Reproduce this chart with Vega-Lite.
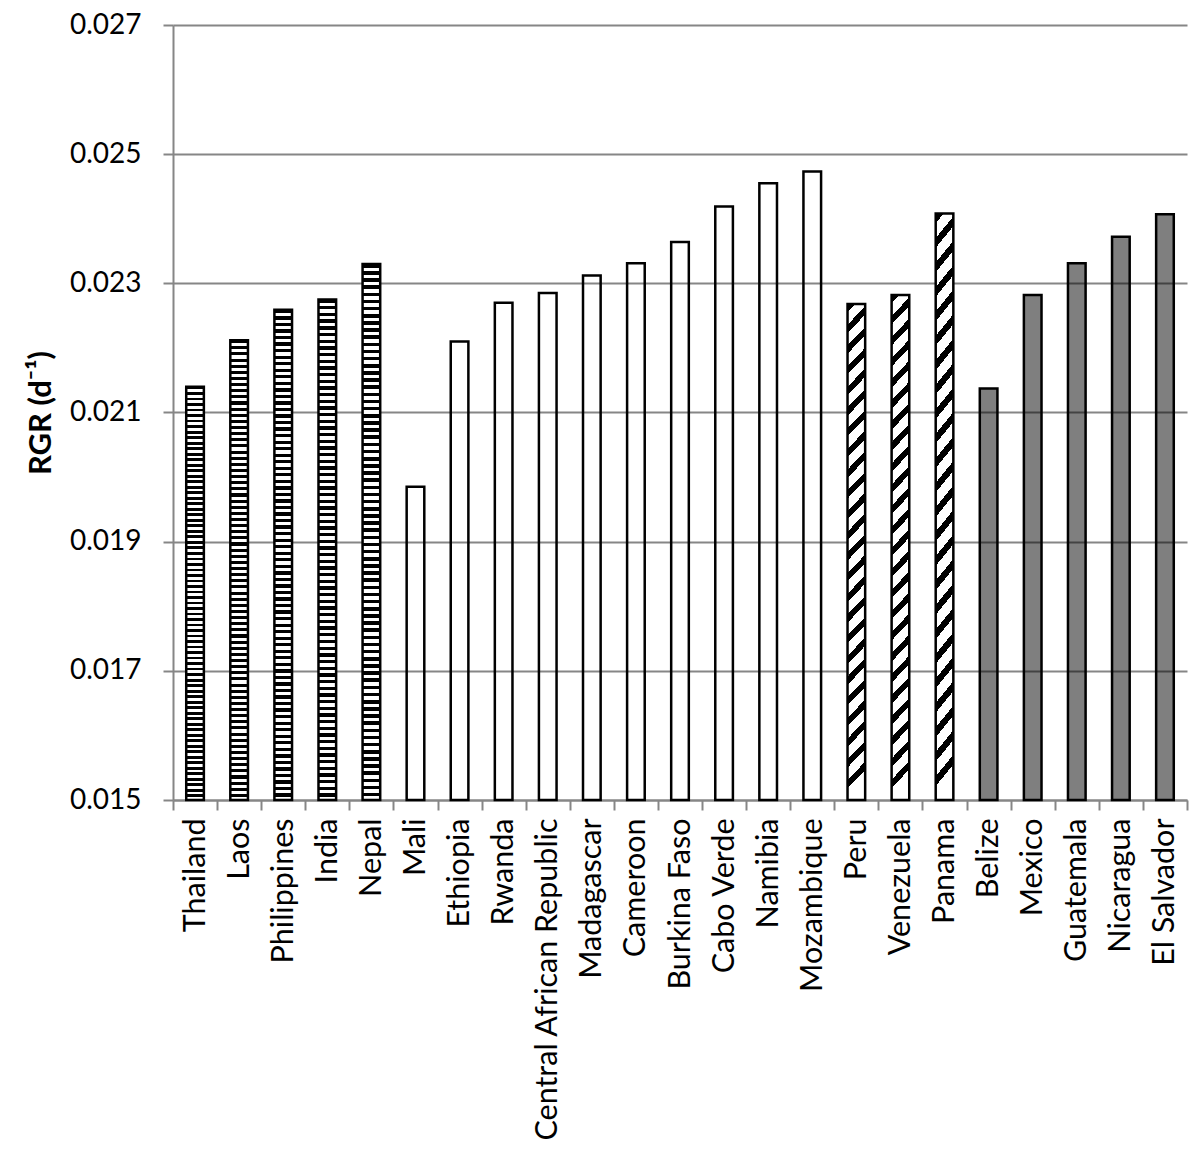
{
  "$schema": "https://vega.github.io/schema/vega-lite/v6.json",
  "autosize": {"type": "none"},
  "padding": {"left": 173, "top": 25, "right": 13, "bottom": 357},
  "width": 1014,
  "height": 775,
  "background": "white",
  "config": {"view": {"stroke": null}, "font": "Lato"},
  "data": {"values": [
    {"country": "Thailand", "rgr": 0.0214, "group": "Asia"},
    {"country": "Laos", "rgr": 0.02212, "group": "Asia"},
    {"country": "Philippines", "rgr": 0.02259, "group": "Asia"},
    {"country": "India", "rgr": 0.02275, "group": "Asia"},
    {"country": "Nepal", "rgr": 0.0233, "group": "Asia"},
    {"country": "Mali", "rgr": 0.01985, "group": "Africa"},
    {"country": "Ethiopia", "rgr": 0.0221, "group": "Africa"},
    {"country": "Rwanda", "rgr": 0.0227, "group": "Africa"},
    {"country": "Central African Republic", "rgr": 0.02285, "group": "Africa"},
    {"country": "Madagascar", "rgr": 0.02312, "group": "Africa"},
    {"country": "Cameroon", "rgr": 0.02331, "group": "Africa"},
    {"country": "Burkina Faso", "rgr": 0.02364, "group": "Africa"},
    {"country": "Cabo Verde", "rgr": 0.02419, "group": "Africa"},
    {"country": "Namibia", "rgr": 0.02455, "group": "Africa"},
    {"country": "Mozambique", "rgr": 0.02473, "group": "Africa"},
    {"country": "Peru", "rgr": 0.02268, "group": "South America"},
    {"country": "Venezuela", "rgr": 0.02282, "group": "South America"},
    {"country": "Panama", "rgr": 0.02408, "group": "South America"},
    {"country": "Belize", "rgr": 0.02137, "group": "Central America"},
    {"country": "Mexico", "rgr": 0.02282, "group": "Central America"},
    {"country": "Guatemala", "rgr": 0.02331, "group": "Central America"},
    {"country": "Nicaragua", "rgr": 0.02372, "group": "Central America"},
    {"country": "El Salvador", "rgr": 0.02407, "group": "Central America"}
  ]},
  "encoding": {
    "x": {
      "field": "country", "type": "nominal", "sort": null,
      "scale": {"paddingInner": 0, "paddingOuter": 0},
      "axis": {
        "title": null, "labelAngle": -90, "labelFontSize": 30.5, "labelFont": "Lato",
        "labelColor": "black", "labelLimit": 0, "labelPadding": 8,
        "tickBand": "extent", "tickSize": 10, "tickColor": "#868686", "tickWidth": 2,
        "domainColor": "#868686", "domainWidth": 2, "grid": false
      }
    },
    "y": {
      "field": "rgr", "type": "quantitative",
      "scale": {"domain": [0.015, 0.027], "nice": false, "zero": false},
      "axis": {
        "values": [0.015, 0.017, 0.019, 0.021, 0.023, 0.025, 0.027],
        "format": ".3f", "grid": true, "gridColor": "#868686", "gridWidth": 2,
        "tickSize": 10, "tickColor": "#868686", "tickWidth": 2,
        "domainColor": "#868686", "domainWidth": 2,
        "labelFontSize": 28, "labelFont": "Lato", "labelColor": "black", "labelPadding": 22,
        "title": "RGR (d⁻¹)", "titleFont": "Lato", "titleFontSize": 31, "titleFontWeight": "bold",
        "titleColor": "black", "titlePadding": 12
      }
    },
    "y2": {"datum": 0.015}
  },
  "layer": [
    {
      "transform": [{"filter": "datum.group == 'Asia'"}],
      "mark": {"type": "bar", "width": {"band": 0.4}, "stroke": "black", "strokeWidth": 2.5,
        "fill": {"gradient": "linear", "x1": 0, "y1": 0, "x2": 0, "y2": 1, "stops": [
{"offset":0,"color":"#000"},{"offset":0.00667,"color":"#000"},{"offset":0.00667,"color":"#fff"},{"offset":0.01333,"color":"#fff"},{"offset":0.01333,"color":"#000"},{"offset":0.02,"color":"#000"},{"offset":0.02,"color":"#fff"},{"offset":0.02667,"color":"#fff"},{"offset":0.02667,"color":"#000"},{"offset":0.03333,"color":"#000"},{"offset":0.03333,"color":"#fff"},{"offset":0.04,"color":"#fff"},
{"offset":0.04,"color":"#000"},{"offset":0.04667,"color":"#000"},{"offset":0.04667,"color":"#fff"},{"offset":0.05333,"color":"#fff"},{"offset":0.05333,"color":"#000"},{"offset":0.06,"color":"#000"},{"offset":0.06,"color":"#fff"},{"offset":0.06667,"color":"#fff"},{"offset":0.06667,"color":"#000"},{"offset":0.07333,"color":"#000"},{"offset":0.07333,"color":"#fff"},{"offset":0.08,"color":"#fff"},
{"offset":0.08,"color":"#000"},{"offset":0.08667,"color":"#000"},{"offset":0.08667,"color":"#fff"},{"offset":0.09333,"color":"#fff"},{"offset":0.09333,"color":"#000"},{"offset":0.1,"color":"#000"},{"offset":0.1,"color":"#fff"},{"offset":0.10667,"color":"#fff"},{"offset":0.10667,"color":"#000"},{"offset":0.11333,"color":"#000"},{"offset":0.11333,"color":"#fff"},{"offset":0.12,"color":"#fff"},
{"offset":0.12,"color":"#000"},{"offset":0.12667,"color":"#000"},{"offset":0.12667,"color":"#fff"},{"offset":0.13333,"color":"#fff"},{"offset":0.13333,"color":"#000"},{"offset":0.14,"color":"#000"},{"offset":0.14,"color":"#fff"},{"offset":0.14667,"color":"#fff"},{"offset":0.14667,"color":"#000"},{"offset":0.15333,"color":"#000"},{"offset":0.15333,"color":"#fff"},{"offset":0.16,"color":"#fff"},
{"offset":0.16,"color":"#000"},{"offset":0.16667,"color":"#000"},{"offset":0.16667,"color":"#fff"},{"offset":0.17333,"color":"#fff"},{"offset":0.17333,"color":"#000"},{"offset":0.18,"color":"#000"},{"offset":0.18,"color":"#fff"},{"offset":0.18667,"color":"#fff"},{"offset":0.18667,"color":"#000"},{"offset":0.19333,"color":"#000"},{"offset":0.19333,"color":"#fff"},{"offset":0.2,"color":"#fff"},
{"offset":0.2,"color":"#000"},{"offset":0.20667,"color":"#000"},{"offset":0.20667,"color":"#fff"},{"offset":0.21333,"color":"#fff"},{"offset":0.21333,"color":"#000"},{"offset":0.22,"color":"#000"},{"offset":0.22,"color":"#fff"},{"offset":0.22667,"color":"#fff"},{"offset":0.22667,"color":"#000"},{"offset":0.23333,"color":"#000"},{"offset":0.23333,"color":"#fff"},{"offset":0.24,"color":"#fff"},
{"offset":0.24,"color":"#000"},{"offset":0.24667,"color":"#000"},{"offset":0.24667,"color":"#fff"},{"offset":0.25333,"color":"#fff"},{"offset":0.25333,"color":"#000"},{"offset":0.26,"color":"#000"},{"offset":0.26,"color":"#fff"},{"offset":0.26667,"color":"#fff"},{"offset":0.26667,"color":"#000"},{"offset":0.27333,"color":"#000"},{"offset":0.27333,"color":"#fff"},{"offset":0.28,"color":"#fff"},
{"offset":0.28,"color":"#000"},{"offset":0.28667,"color":"#000"},{"offset":0.28667,"color":"#fff"},{"offset":0.29333,"color":"#fff"},{"offset":0.29333,"color":"#000"},{"offset":0.3,"color":"#000"},{"offset":0.3,"color":"#fff"},{"offset":0.30667,"color":"#fff"},{"offset":0.30667,"color":"#000"},{"offset":0.31333,"color":"#000"},{"offset":0.31333,"color":"#fff"},{"offset":0.32,"color":"#fff"},
{"offset":0.32,"color":"#000"},{"offset":0.32667,"color":"#000"},{"offset":0.32667,"color":"#fff"},{"offset":0.33333,"color":"#fff"},{"offset":0.33333,"color":"#000"},{"offset":0.34,"color":"#000"},{"offset":0.34,"color":"#fff"},{"offset":0.34667,"color":"#fff"},{"offset":0.34667,"color":"#000"},{"offset":0.35333,"color":"#000"},{"offset":0.35333,"color":"#fff"},{"offset":0.36,"color":"#fff"},
{"offset":0.36,"color":"#000"},{"offset":0.36667,"color":"#000"},{"offset":0.36667,"color":"#fff"},{"offset":0.37333,"color":"#fff"},{"offset":0.37333,"color":"#000"},{"offset":0.38,"color":"#000"},{"offset":0.38,"color":"#fff"},{"offset":0.38667,"color":"#fff"},{"offset":0.38667,"color":"#000"},{"offset":0.39333,"color":"#000"},{"offset":0.39333,"color":"#fff"},{"offset":0.4,"color":"#fff"},
{"offset":0.4,"color":"#000"},{"offset":0.40667,"color":"#000"},{"offset":0.40667,"color":"#fff"},{"offset":0.41333,"color":"#fff"},{"offset":0.41333,"color":"#000"},{"offset":0.42,"color":"#000"},{"offset":0.42,"color":"#fff"},{"offset":0.42667,"color":"#fff"},{"offset":0.42667,"color":"#000"},{"offset":0.43333,"color":"#000"},{"offset":0.43333,"color":"#fff"},{"offset":0.44,"color":"#fff"},
{"offset":0.44,"color":"#000"},{"offset":0.44667,"color":"#000"},{"offset":0.44667,"color":"#fff"},{"offset":0.45333,"color":"#fff"},{"offset":0.45333,"color":"#000"},{"offset":0.46,"color":"#000"},{"offset":0.46,"color":"#fff"},{"offset":0.46667,"color":"#fff"},{"offset":0.46667,"color":"#000"},{"offset":0.47333,"color":"#000"},{"offset":0.47333,"color":"#fff"},{"offset":0.48,"color":"#fff"},
{"offset":0.48,"color":"#000"},{"offset":0.48667,"color":"#000"},{"offset":0.48667,"color":"#fff"},{"offset":0.49333,"color":"#fff"},{"offset":0.49333,"color":"#000"},{"offset":0.5,"color":"#000"},{"offset":0.5,"color":"#fff"},{"offset":0.50667,"color":"#fff"},{"offset":0.50667,"color":"#000"},{"offset":0.51333,"color":"#000"},{"offset":0.51333,"color":"#fff"},{"offset":0.52,"color":"#fff"},
{"offset":0.52,"color":"#000"},{"offset":0.52667,"color":"#000"},{"offset":0.52667,"color":"#fff"},{"offset":0.53333,"color":"#fff"},{"offset":0.53333,"color":"#000"},{"offset":0.54,"color":"#000"},{"offset":0.54,"color":"#fff"},{"offset":0.54667,"color":"#fff"},{"offset":0.54667,"color":"#000"},{"offset":0.55333,"color":"#000"},{"offset":0.55333,"color":"#fff"},{"offset":0.56,"color":"#fff"},
{"offset":0.56,"color":"#000"},{"offset":0.56667,"color":"#000"},{"offset":0.56667,"color":"#fff"},{"offset":0.57333,"color":"#fff"},{"offset":0.57333,"color":"#000"},{"offset":0.58,"color":"#000"},{"offset":0.58,"color":"#fff"},{"offset":0.58667,"color":"#fff"},{"offset":0.58667,"color":"#000"},{"offset":0.59333,"color":"#000"},{"offset":0.59333,"color":"#fff"},{"offset":0.6,"color":"#fff"},
{"offset":0.6,"color":"#000"},{"offset":0.60667,"color":"#000"},{"offset":0.60667,"color":"#fff"},{"offset":0.61333,"color":"#fff"},{"offset":0.61333,"color":"#000"},{"offset":0.62,"color":"#000"},{"offset":0.62,"color":"#fff"},{"offset":0.62667,"color":"#fff"},{"offset":0.62667,"color":"#000"},{"offset":0.63333,"color":"#000"},{"offset":0.63333,"color":"#fff"},{"offset":0.64,"color":"#fff"},
{"offset":0.64,"color":"#000"},{"offset":0.64667,"color":"#000"},{"offset":0.64667,"color":"#fff"},{"offset":0.65333,"color":"#fff"},{"offset":0.65333,"color":"#000"},{"offset":0.66,"color":"#000"},{"offset":0.66,"color":"#fff"},{"offset":0.66667,"color":"#fff"},{"offset":0.66667,"color":"#000"},{"offset":0.67333,"color":"#000"},{"offset":0.67333,"color":"#fff"},{"offset":0.68,"color":"#fff"},
{"offset":0.68,"color":"#000"},{"offset":0.68667,"color":"#000"},{"offset":0.68667,"color":"#fff"},{"offset":0.69333,"color":"#fff"},{"offset":0.69333,"color":"#000"},{"offset":0.7,"color":"#000"},{"offset":0.7,"color":"#fff"},{"offset":0.70667,"color":"#fff"},{"offset":0.70667,"color":"#000"},{"offset":0.71333,"color":"#000"},{"offset":0.71333,"color":"#fff"},{"offset":0.72,"color":"#fff"},
{"offset":0.72,"color":"#000"},{"offset":0.72667,"color":"#000"},{"offset":0.72667,"color":"#fff"},{"offset":0.73333,"color":"#fff"},{"offset":0.73333,"color":"#000"},{"offset":0.74,"color":"#000"},{"offset":0.74,"color":"#fff"},{"offset":0.74667,"color":"#fff"},{"offset":0.74667,"color":"#000"},{"offset":0.75333,"color":"#000"},{"offset":0.75333,"color":"#fff"},{"offset":0.76,"color":"#fff"},
{"offset":0.76,"color":"#000"},{"offset":0.76667,"color":"#000"},{"offset":0.76667,"color":"#fff"},{"offset":0.77333,"color":"#fff"},{"offset":0.77333,"color":"#000"},{"offset":0.78,"color":"#000"},{"offset":0.78,"color":"#fff"},{"offset":0.78667,"color":"#fff"},{"offset":0.78667,"color":"#000"},{"offset":0.79333,"color":"#000"},{"offset":0.79333,"color":"#fff"},{"offset":0.8,"color":"#fff"},
{"offset":0.8,"color":"#000"},{"offset":0.80667,"color":"#000"},{"offset":0.80667,"color":"#fff"},{"offset":0.81333,"color":"#fff"},{"offset":0.81333,"color":"#000"},{"offset":0.82,"color":"#000"},{"offset":0.82,"color":"#fff"},{"offset":0.82667,"color":"#fff"},{"offset":0.82667,"color":"#000"},{"offset":0.83333,"color":"#000"},{"offset":0.83333,"color":"#fff"},{"offset":0.84,"color":"#fff"},
{"offset":0.84,"color":"#000"},{"offset":0.84667,"color":"#000"},{"offset":0.84667,"color":"#fff"},{"offset":0.85333,"color":"#fff"},{"offset":0.85333,"color":"#000"},{"offset":0.86,"color":"#000"},{"offset":0.86,"color":"#fff"},{"offset":0.86667,"color":"#fff"},{"offset":0.86667,"color":"#000"},{"offset":0.87333,"color":"#000"},{"offset":0.87333,"color":"#fff"},{"offset":0.88,"color":"#fff"},
{"offset":0.88,"color":"#000"},{"offset":0.88667,"color":"#000"},{"offset":0.88667,"color":"#fff"},{"offset":0.89333,"color":"#fff"},{"offset":0.89333,"color":"#000"},{"offset":0.9,"color":"#000"},{"offset":0.9,"color":"#fff"},{"offset":0.90667,"color":"#fff"},{"offset":0.90667,"color":"#000"},{"offset":0.91333,"color":"#000"},{"offset":0.91333,"color":"#fff"},{"offset":0.92,"color":"#fff"},
{"offset":0.92,"color":"#000"},{"offset":0.92667,"color":"#000"},{"offset":0.92667,"color":"#fff"},{"offset":0.93333,"color":"#fff"},{"offset":0.93333,"color":"#000"},{"offset":0.94,"color":"#000"},{"offset":0.94,"color":"#fff"},{"offset":0.94667,"color":"#fff"},{"offset":0.94667,"color":"#000"},{"offset":0.95333,"color":"#000"},{"offset":0.95333,"color":"#fff"},{"offset":0.96,"color":"#fff"},
{"offset":0.96,"color":"#000"},{"offset":0.96667,"color":"#000"},{"offset":0.96667,"color":"#fff"},{"offset":0.97333,"color":"#fff"},{"offset":0.97333,"color":"#000"},{"offset":0.98,"color":"#000"},{"offset":0.98,"color":"#fff"},{"offset":0.98667,"color":"#fff"},{"offset":0.98667,"color":"#000"},{"offset":0.99333,"color":"#000"},{"offset":0.99333,"color":"#fff"},{"offset":1,"color":"#fff"}
        ]}
      }
    },
    {
      "transform": [{"filter": "datum.group == 'Africa'"}],
      "mark": {"type": "bar", "width": {"band": 0.4}, "stroke": "black", "strokeWidth": 2.5, "fill": "white", "fillOpacity": 0}
    },
    {
      "transform": [{"filter": "datum.group == 'South America'"}],
      "mark": {"type": "bar", "width": {"band": 0.4}, "stroke": "black", "strokeWidth": 2.5,
        "fill": {"gradient": "linear", "x1": 0, "y1": 0, "x2": 0.037, "y2": 1, "stops": [
{"offset":0,"color":"#000"},{"offset":0.016667,"color":"#000"},{"offset":0.016667,"color":"#fff"},{"offset":0.041667,"color":"#fff"},
{"offset":0.041667,"color":"#000"},{"offset":0.058333,"color":"#000"},{"offset":0.058333,"color":"#fff"},{"offset":0.083333,"color":"#fff"},
{"offset":0.083333,"color":"#000"},{"offset":0.1,"color":"#000"},{"offset":0.1,"color":"#fff"},{"offset":0.125,"color":"#fff"},
{"offset":0.125,"color":"#000"},{"offset":0.141667,"color":"#000"},{"offset":0.141667,"color":"#fff"},{"offset":0.166667,"color":"#fff"},
{"offset":0.166667,"color":"#000"},{"offset":0.183333,"color":"#000"},{"offset":0.183333,"color":"#fff"},{"offset":0.208333,"color":"#fff"},
{"offset":0.208333,"color":"#000"},{"offset":0.225,"color":"#000"},{"offset":0.225,"color":"#fff"},{"offset":0.25,"color":"#fff"},
{"offset":0.25,"color":"#000"},{"offset":0.266667,"color":"#000"},{"offset":0.266667,"color":"#fff"},{"offset":0.291667,"color":"#fff"},
{"offset":0.291667,"color":"#000"},{"offset":0.308333,"color":"#000"},{"offset":0.308333,"color":"#fff"},{"offset":0.333333,"color":"#fff"},
{"offset":0.333333,"color":"#000"},{"offset":0.35,"color":"#000"},{"offset":0.35,"color":"#fff"},{"offset":0.375,"color":"#fff"},
{"offset":0.375,"color":"#000"},{"offset":0.391667,"color":"#000"},{"offset":0.391667,"color":"#fff"},{"offset":0.416667,"color":"#fff"},
{"offset":0.416667,"color":"#000"},{"offset":0.433333,"color":"#000"},{"offset":0.433333,"color":"#fff"},{"offset":0.458333,"color":"#fff"},
{"offset":0.458333,"color":"#000"},{"offset":0.475,"color":"#000"},{"offset":0.475,"color":"#fff"},{"offset":0.5,"color":"#fff"},
{"offset":0.5,"color":"#000"},{"offset":0.516667,"color":"#000"},{"offset":0.516667,"color":"#fff"},{"offset":0.541667,"color":"#fff"},
{"offset":0.541667,"color":"#000"},{"offset":0.558333,"color":"#000"},{"offset":0.558333,"color":"#fff"},{"offset":0.583333,"color":"#fff"},
{"offset":0.583333,"color":"#000"},{"offset":0.6,"color":"#000"},{"offset":0.6,"color":"#fff"},{"offset":0.625,"color":"#fff"},
{"offset":0.625,"color":"#000"},{"offset":0.641667,"color":"#000"},{"offset":0.641667,"color":"#fff"},{"offset":0.666667,"color":"#fff"},
{"offset":0.666667,"color":"#000"},{"offset":0.683333,"color":"#000"},{"offset":0.683333,"color":"#fff"},{"offset":0.708333,"color":"#fff"},
{"offset":0.708333,"color":"#000"},{"offset":0.725,"color":"#000"},{"offset":0.725,"color":"#fff"},{"offset":0.75,"color":"#fff"},
{"offset":0.75,"color":"#000"},{"offset":0.766667,"color":"#000"},{"offset":0.766667,"color":"#fff"},{"offset":0.791667,"color":"#fff"},
{"offset":0.791667,"color":"#000"},{"offset":0.808333,"color":"#000"},{"offset":0.808333,"color":"#fff"},{"offset":0.833333,"color":"#fff"},
{"offset":0.833333,"color":"#000"},{"offset":0.85,"color":"#000"},{"offset":0.85,"color":"#fff"},{"offset":0.875,"color":"#fff"},
{"offset":0.875,"color":"#000"},{"offset":0.891667,"color":"#000"},{"offset":0.891667,"color":"#fff"},{"offset":0.916667,"color":"#fff"},
{"offset":0.916667,"color":"#000"},{"offset":0.933333,"color":"#000"},{"offset":0.933333,"color":"#fff"},{"offset":0.958333,"color":"#fff"},
{"offset":0.958333,"color":"#000"},{"offset":0.975,"color":"#000"},{"offset":0.975,"color":"#fff"},{"offset":1,"color":"#fff"}
        ]}
      }
    },
    {
      "transform": [{"filter": "datum.group == 'Central America'"}],
      "mark": {"type": "bar", "width": {"band": 0.4}, "stroke": "black", "strokeWidth": 2.5, "fill": "black", "fillOpacity": 0.5}
    }
  ]
}
